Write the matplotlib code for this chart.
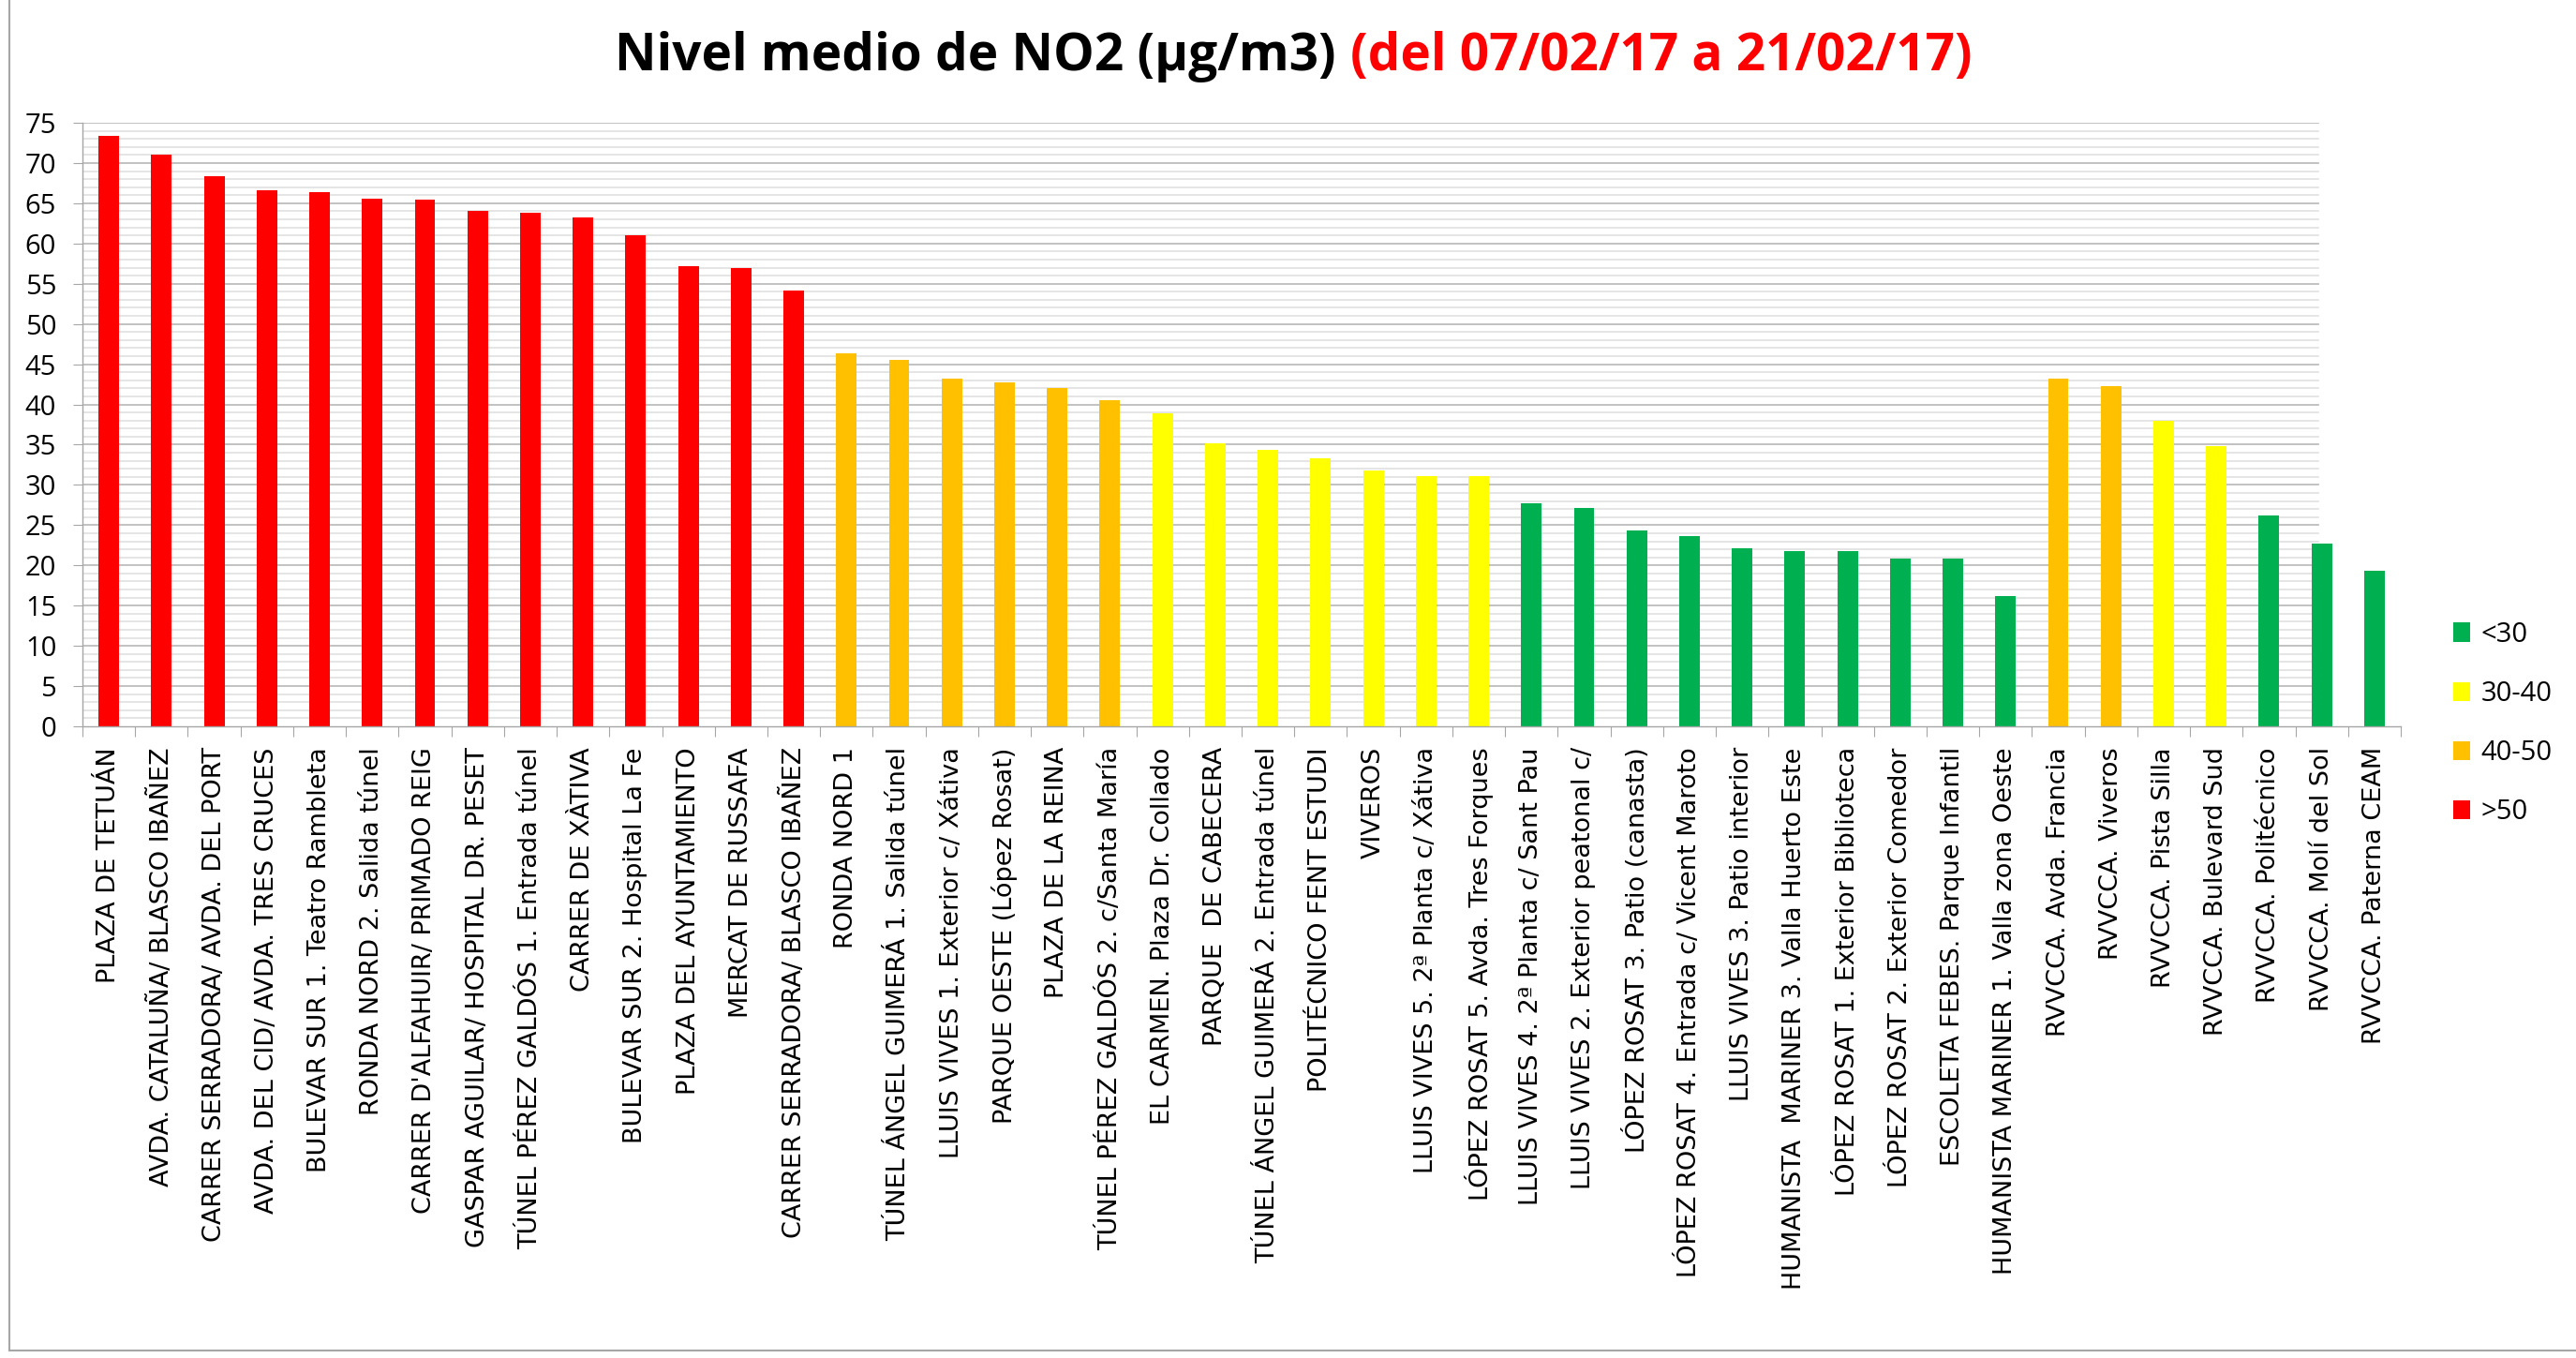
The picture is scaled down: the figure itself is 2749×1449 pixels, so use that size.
import matplotlib
matplotlib.use("Agg")
import matplotlib.pyplot as plt
from matplotlib.patches import Patch
from matplotlib.lines import Line2D
import numpy as np

# ---------------- data ----------------
stations = [
    "PLAZA DE TETUÁN",
    "AVDA. CATALUÑA/ BLASCO IBAÑEZ",
    "CARRER SERRADORA/ AVDA. DEL PORT",
    "AVDA. DEL CID/ AVDA. TRES CRUCES",
    "BULEVAR SUR 1. Teatro Rambleta",
    "RONDA NORD 2. Salida túnel",
    "CARRER D'ALFAHUIR/ PRIMADO REIG",
    "GASPAR AGUILAR/ HOSPITAL DR. PESET",
    "TÚNEL PÉREZ GALDÓS 1. Entrada túnel",
    "CARRER DE XÀTIVA",
    "BULEVAR SUR 2. Hospital La Fe",
    "PLAZA DEL AYUNTAMIENTO",
    "MERCAT DE RUSSAFA",
    "CARRER SERRADORA/ BLASCO IBAÑEZ",
    "RONDA NORD 1",
    "TÚNEL ÁNGEL GUIMERÁ 1. Salida túnel",
    "LLUIS VIVES 1. Exterior c/ Xátiva",
    "PARQUE OESTE (López Rosat)",
    "PLAZA DE LA REINA",
    "TÚNEL PÉREZ GALDÓS 2. c/Santa María",
    "EL CARMEN. Plaza Dr. Collado",
    "PARQUE  DE CABECERA",
    "TÚNEL ÁNGEL GUIMERÁ 2. Entrada túnel",
    "POLITÉCNICO FENT ESTUDI",
    "VIVEROS",
    "LLUIS VIVES 5. 2ª Planta c/ Xátiva",
    "LÓPEZ ROSAT 5. Avda. Tres Forques",
    "LLUIS VIVES 4. 2ª Planta c/ Sant Pau",
    "LLUIS VIVES 2. Exterior peatonal c/",
    "LÓPEZ ROSAT 3. Patio (canasta)",
    "LÓPEZ ROSAT 4. Entrada c/ Vicent Maroto",
    "LLUIS VIVES 3. Patio interior",
    "HUMANISTA  MARINER 3. Valla Huerto Este",
    "LÓPEZ ROSAT 1. Exterior Biblioteca",
    "LÓPEZ ROSAT 2. Exterior Comedor",
    "ESCOLETA FEBES. Parque Infantil",
    "HUMANISTA MARINER 1. Valla zona Oeste",
    "RVVCCA. Avda. Francia",
    "RVVCCA. Viveros",
    "RVVCCA. Pista Silla",
    "RVVCCA. Bulevard Sud",
    "RVVCCA. Politécnico",
    "RVVCCA. Molí del Sol",
    "RVVCCA. Paterna CEAM",
]

no2 = [
    73.4, 71.0, 68.4, 66.6, 66.4, 65.6, 65.4, 64.1, 63.8, 63.2, 61.0, 57.2,
    57.0, 54.2, 46.4, 45.5, 43.2, 42.7, 42.1, 40.5, 38.9, 35.2, 34.3, 33.3,
    31.8, 31.1, 31.1, 27.7, 27.1, 24.3, 23.6, 22.1, 21.8, 21.8, 20.8, 20.8,
    16.2, 43.2, 42.3, 38.0, 34.8, 26.2, 22.7, 19.3,
]

class_labels = ["<30", "30-40", "40-50", ">50"]
class_limits = [30, 40, 50]
class_colors = ["#00B050", "#FFFF00", "#FFC000", "#FF0000"]

title_main = "Nivel medio de NO2 (µg/m3)"
title_period = "(del 07/02/17 a 21/02/17)"

y_ticks = list(range(0, 80, 5))

# ---------------- figure ----------------
W, H = 2749, 1449
fig = plt.figure(figsize=(W / 100, H / 100), dpi=100)
fig.patch.set_facecolor("white")

ax_left, ax_right, ax_top, ax_bottom = 88, 2562, 131, 775
ax = fig.add_axes([ax_left / W, 1 - ax_bottom / H,
                   (ax_right - ax_left) / W, (ax_bottom - ax_top) / H])

x = np.arange(len(stations))
colors = [class_colors[int(np.searchsorted(class_limits, v, side="right"))] for v in no2]
ax.bar(x, no2, width=0.39, color=colors, zorder=3)

ax.set_xlim(-0.5, len(stations) - 0.5)
ax.set_ylim(0, 75)

# gridlines (Excel-like: major every 5, minor every 1; they stop short of the right end)
grid_xmax = (2474 - ax_left) / (ax_right - ax_left)
for yv in range(1, 76):
    if yv % 5 == 0:
        ax.axhline(yv, xmin=0, xmax=grid_xmax, color="#BDBDBD", lw=1.3, zorder=1)
    else:
        ax.axhline(yv, xmin=0, xmax=grid_xmax, color="#DEDEDE", lw=1.1, zorder=1)

for s in ["top", "right"]:
    ax.spines[s].set_visible(False)
for s in ["left", "bottom"]:
    ax.spines[s].set_color("#A6A6A6")
    ax.spines[s].set_linewidth(1.0)
    ax.spines[s].set_zorder(4)

ax.set_yticks(y_ticks)
ax.set_yticklabels([str(t) for t in y_ticks], fontfamily="Open Sans", fontsize=21)
ax.tick_params(axis="y", length=7, width=0.8, color="#A6A6A6", pad=13)

ax.set_xticks(x)
ax.set_xticklabels(stations, rotation=90, fontfamily="DejaVu Sans", fontsize=19.5,
                   ha="center", va="top")
ax.set_xticks(np.arange(-0.5, len(stations), 1.0), minor=True)
ax.tick_params(axis="x", which="major", length=0, pad=16)
ax.tick_params(axis="x", which="minor", length=8, width=0.8, color="#A6A6A6")

# legend
handles = [Patch(facecolor=c, edgecolor="none") for c in class_colors]
leg = fig.legend(handles, class_labels, loc="center left",
                 bbox_to_anchor=(2618 / W, 1 - 772 / H), bbox_transform=fig.transFigure,
                 frameon=False, borderpad=0, borderaxespad=0,
                 handlelength=0.62, handleheight=0.7, handletextpad=0.4,
                 labelspacing=1.17, prop={"family": "Open Sans", "size": 21})

# title in two colours, centred
tfam = ["Liberation Sans Narrow", "Open Sans"]
t1 = fig.text(0, 1 - 75 / H, title_main, color="black", fontweight="bold",
              fontfamily=tfam, fontsize=40, va="baseline", ha="left")
t2 = fig.text(0, 1 - 75 / H, title_period, color="#FF0000", fontweight="bold",
              fontfamily=tfam, fontsize=40, va="baseline", ha="left")
fig.canvas.draw()
r = fig.canvas.get_renderer()
w1 = t1.get_window_extent(r).width
w2 = t2.get_window_extent(r).width
target = 1447.0
gap_em = 0.28
fs = 40 * target / (w1 + w2 + gap_em * 40 / 0.72)
t1.set_fontsize(fs)
t2.set_fontsize(fs)
fig.canvas.draw()
w1 = t1.get_window_extent(r).width
w2 = t2.get_window_extent(r).width
gap = gap_em * fs / 0.72
total = w1 + gap + w2
x0 = 1380 - total / 2
t1.set_x(x0 / W)
t2.set_x((x0 + w1 + gap) / W)

# outer chart border (left and bottom visible)
fig.add_artist(Line2D([10 / W, 10 / W], [1 - 1441 / H, 1.0], transform=fig.transFigure,
                      color="#A6A6A6", lw=1.5))
fig.add_artist(Line2D([10 / W, 1.0], [1 - 1441 / H, 1 - 1441 / H], transform=fig.transFigure,
                      color="#A6A6A6", lw=1.5))

fig.savefig("out.png", dpi=100, facecolor="white")
